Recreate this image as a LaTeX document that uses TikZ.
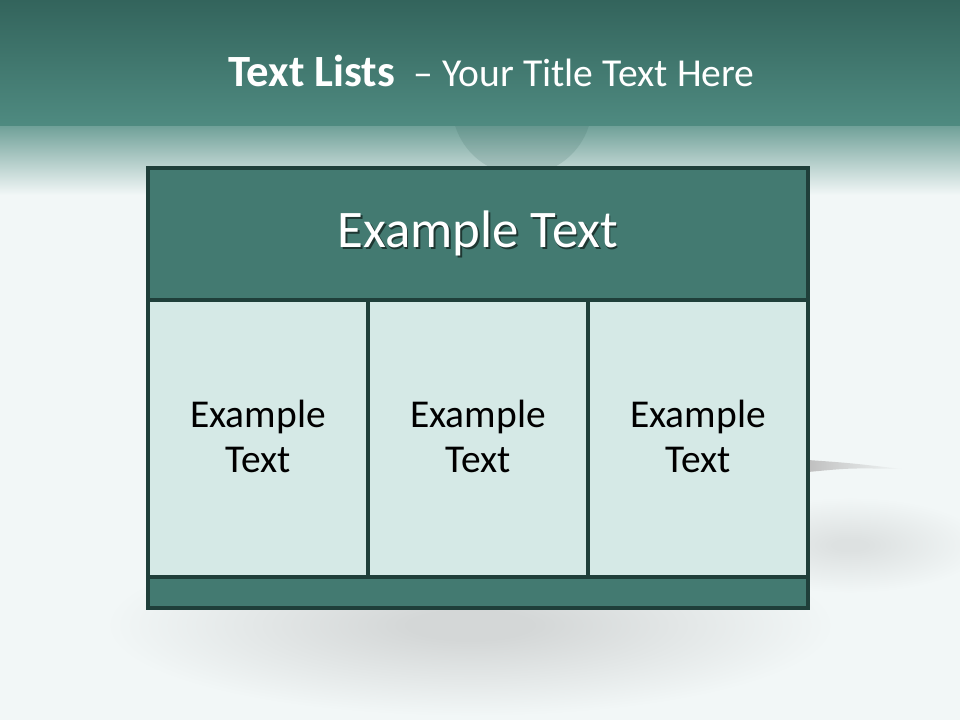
\documentclass[tikz,border=0pt]{standalone}
\usepackage{fontspec}
\setmainfont{Carlito}
\usetikzlibrary{fadings}
\usepackage{xcolor}

\definecolor{bandTop}{HTML}{33645C}
\definecolor{bandBot}{HTML}{4F8B81}
\definecolor{pageBg}{HTML}{F2F7F7}
\definecolor{headFill}{HTML}{437A71}
\definecolor{cellFill}{HTML}{D5E9E6}
\definecolor{ruleCol}{HTML}{1F3F3A}
\definecolor{shadowCol}{HTML}{D4D7D7}
\definecolor{shadowLight}{HTML}{DDE1E1}

\pgfdeclareradialshading{softShadow}{\pgfpoint{0bp}{0bp}}{color(0bp)=(shadowCol); color(4bp)=(shadowCol); color(24bp)=(pageBg); color(50bp)=(pageBg)}
\pgfdeclareradialshading{paleShadow}{\pgfpoint{0bp}{0bp}}{color(0bp)=(shadowLight); color(3bp)=(shadowLight); color(24bp)=(pageBg); color(50bp)=(pageBg)}

\begin{document}
\begin{tikzpicture}[x=0.75pt,y=0.75pt,yscale=-1,xscale=1]
\useasboundingbox (0,0) rectangle (960,720);

%Shape: Rectangle [page background]
\fill [pageBg] (0,0) rectangle (960,720) ;
%Shape: Rectangle [title band]
\shade [top color=bandTop, bottom color=bandBot] (0,0) rectangle (960,127) ;
%Shape: Rectangle [band fade]
\shade [top color=bandBot!80!white, bottom color=pageBg] (0,127) rectangle (960,195) ;
%Shape: Circle [disc behind the table]
\begin{scope}
\clip (0,127) rectangle (960,168) ;
\fill [color=bandTop, fill opacity=0.16] (522,105) circle [x radius=70, y radius=70] ;
\end{scope}

%Shape: Ellipse [shadow under table]
\shade [shading=softShadow] (470,625) ellipse [x radius=380, y radius=95] ;
%Shape: Ellipse [shadow right of table]
\shade [shading=paleShadow] (850,545) ellipse [x radius=140, y radius=50] ;
%Shape: Sliver [right of table]
\shade [left color=black!25, right color=pageBg] (808,460) .. controls (850,463) .. (902,469) .. controls (850,468) .. (808,472) -- cycle ;

%Shape: Rectangle [header row]
\draw [color=ruleCol, line width=2.6pt, fill=headFill] (148,168) rectangle (808,300) ;
%Shape: Rectangle [cells]
\draw [color=ruleCol, line width=2.6pt, fill=cellFill] (148,300) rectangle (368,577) ;
\draw [color=ruleCol, line width=2.6pt, fill=cellFill] (368,300) rectangle (588,577) ;
\draw [color=ruleCol, line width=2.6pt, fill=cellFill] (588,300) rectangle (808,577) ;
%Shape: Rectangle [footer strip]
\draw [color=ruleCol, line width=2.6pt, fill=headFill] (148,577) rectangle (808,608) ;

% Text Node
\draw (491.5,87) node [anchor=base, inner sep=0pt, color=white] (title) {{\bfseries\fontsize{33.5}{38}\selectfont Text Lists}\hspace{14pt}{\fontsize{29.7}{36}\selectfont – Your Title Text Here}};
% Text Node
\draw (479.5,249.5) node [anchor=base, inner sep=0pt, color=black, opacity=0.55] (headShadow) {\fontsize{39.6}{44}\selectfont Example Text};
\draw (478,248) node [anchor=base, inner sep=0pt, color=white] (head) {\fontsize{39.6}{44}\selectfont Example Text};
% Text Node
\draw (258,472) node [anchor=base, inner sep=0pt, align=center, font=\fontsize{29.6}{33.75}\selectfont] (cellA) {Example\\Text};
% Text Node
\draw (478,472) node [anchor=base, inner sep=0pt, align=center, font=\fontsize{29.6}{33.75}\selectfont] (cellB) {Example\\Text};
% Text Node
\draw (698,472) node [anchor=base, inner sep=0pt, align=center, font=\fontsize{29.6}{33.75}\selectfont] (cellC) {Example\\Text};

\end{tikzpicture}
\end{document}
